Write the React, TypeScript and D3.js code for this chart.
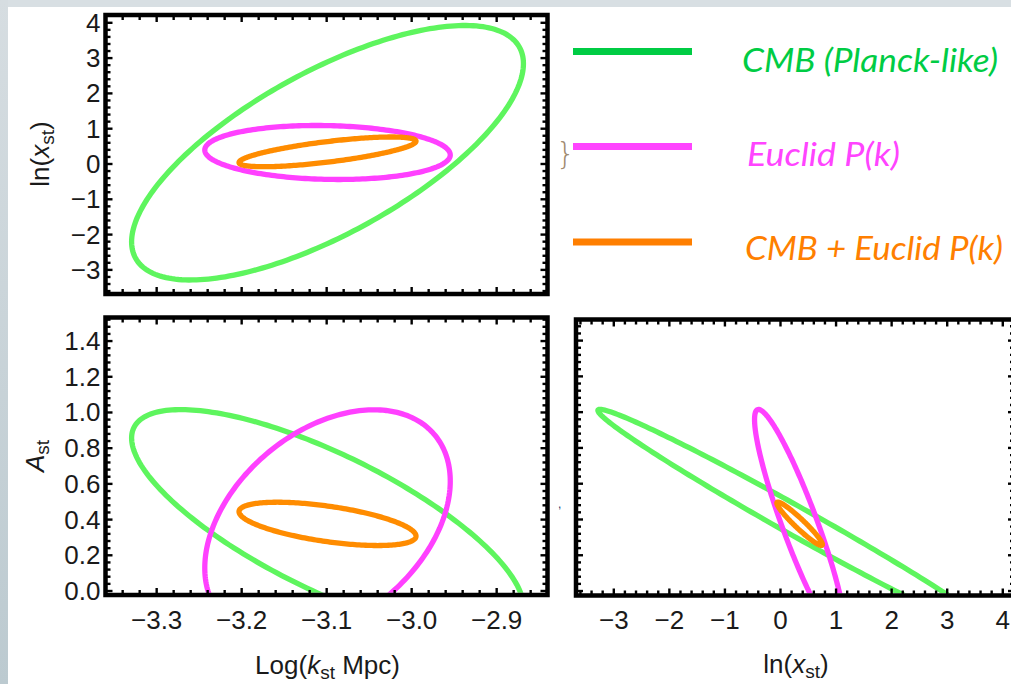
import React from "react";
import * as d3 from "d3";

const W = 1011;
const H = 684;

const seriesNames = ["CMB (Planck-like)", "Euclid P(k)", "CMB + Euclid P(k)"];

// ellipse parameters (centre, half-extent, correlation)
// top panel: Log(k_st Mpc) vs ln(x_st)
const topCx = [-3.099, -3.099, -3.099];
const topSx = [0.2305, 0.1444, 0.1041];
const topCy = [0.319, 0.326, 0.344];
const topSy = [3.605, 0.765, 0.421];
const topRho = [0.7, -0.09, 0.72];

// bottom-left: Log(k_st Mpc) vs A_st
const blCx = [-3.099, -3.099, -3.099];
const blSx = [0.2305, 0.1444, 0.1041];
const blCy = [0.384, 0.372, 0.376];
const blSy = [0.632, 0.643, 0.1213];
const blRho = [-0.748, 0.378, -0.565];

// bottom-right: ln(x_st) vs A_st
const brCx = [0.319, 0.35, 0.344];
const brSx = [3.605, 0.817, 0.41];
const brCy = [0.384, 0.372, 0.376];
const brSy = [0.632, 0.643, 0.1213];
const brRho = [-0.9895, -0.912, -0.955];

const logkTicks = [-3.3, -3.2, -3.1, -3.0, -2.9];
const lnxTicks = [-3, -2, -1, 0, 1, 2, 3, 4];
const ampTicks = [0, 0.2, 0.4, 0.6, 0.8, 1.0, 1.2, 1.4];

const curveColors = ["#5ef55e", "#ff40ff", "#ff8c00"];
const legendColors = ["#00cc44", "#ff44ff", "#ff7f00"];

const FONT = "'Liberation Sans', Arial, sans-serif";
const fmt1 = d3.format(".1f");
const fmt0 = d3.format("d");

function minorTicks(domain: number[], step: number) {
  const lo = Math.ceil(domain[0] / step - 1e-9);
  const hi = Math.floor(domain[1] / step + 1e-9);
  return d3.range(lo, hi + 1).map((i) => +(i * step).toFixed(6));
}

function ellipsePts(cx: number, sx: number, cy: number, sy: number, rho: number) {
  const s = Math.sqrt(1 - rho * rho);
  return d3.range(0, 360, 1.5).map((deg) => {
    const t = (deg * Math.PI) / 180;
    return [cx + sx * Math.cos(t), cy + sy * (rho * Math.cos(t) + s * Math.sin(t))];
  });
}

type PanelProps = {
  id: string;
  left: number;
  right: number;
  top: number;
  bottom: number;
  xDomain: number[];
  yDomain: number[];
  xMajor: number[];
  yMajor: number[];
  xMinor: number;
  yMinor: number;
  xFmt?: (v: number) => string;
  yFmt?: (v: number) => string;
  cx: number[];
  sx: number[];
  cy: number[];
  sy: number[];
  rho: number[];
};

function Panel(p: PanelProps) {
  const x = d3.scaleLinear().domain(p.xDomain).range([p.left, p.right]);
  const y = d3.scaleLinear().domain(p.yDomain).range([p.bottom, p.top]);
  const line = d3
    .line<number[]>()
    .x((d) => x(d[0]))
    .y((d) => y(d[1]))
    .curve(d3.curveLinearClosed);

  const xMin = minorTicks(p.xDomain, p.xMinor);
  const yMin = minorTicks(p.yDomain, p.yMinor);
  const isMajor = (arr: number[], v: number) => arr.some((m) => Math.abs(m - v) < 1e-6);
  const fw = 4.5;
  const inner = fw / 2;

  return (
    <g>
      <defs>
        <clipPath id={p.id}>
          <rect x={p.left + inner} y={p.top + inner} width={p.right - p.left - fw} height={p.bottom - p.top - fw} />
        </clipPath>
      </defs>
      <g clipPath={`url(#${p.id})`}>
        {p.cx.map((_, i) => (
          <path
            key={i}
            d={line(ellipsePts(p.cx[i], p.sx[i], p.cy[i], p.sy[i], p.rho[i])) || ""}
            fill="none"
            stroke={curveColors[i]}
            strokeWidth={5.3}
          />
        ))}
      </g>
      {/* ticks on all four sides, inward */}
      <g stroke="#000" strokeWidth={2.4}>
        {xMin.map((v) => {
          const len = isMajor(p.xMajor, v) ? 7 : 5;
          return (
            <g key={"x" + v}>
              <line x1={x(v)} x2={x(v)} y1={p.bottom} y2={p.bottom - len} />
              <line x1={x(v)} x2={x(v)} y1={p.top} y2={p.top + len} />
            </g>
          );
        })}
        {yMin.map((v) => {
          const len = isMajor(p.yMajor, v) ? 7 : 5;
          return (
            <g key={"y" + v}>
              <line x1={p.left} x2={p.left + len} y1={y(v)} y2={y(v)} />
              <line x1={p.right} x2={p.right - len} y1={y(v)} y2={y(v)} />
            </g>
          );
        })}
      </g>
      <rect x={p.left} y={p.top} width={p.right - p.left} height={p.bottom - p.top} fill="none" stroke="#000" strokeWidth={fw} />
      {p.xFmt &&
        p.xMajor.map((v) => (
          <text key={"xl" + v} x={x(v)} y={629} textAnchor="middle" fontSize={26} fontFamily={FONT} fill="#1a1a1a">
            {p.xFmt!(v)}
          </text>
        ))}
      {p.yFmt &&
        p.yMajor.map((v) => (
          <text key={"yl" + v} x={p.left - 5} y={y(v) + 9} textAnchor="end" fontSize={26} fontFamily={FONT} fill="#1a1a1a">
            {p.yFmt!(v)}
          </text>
        ))}
    </g>
  );
}

export default function App() {
  const legendY = [51.5, 146.5, 242];
  const legendTextX = [742, 747, 745];
  const legendTextY = [72, 166, 260];
  const legendTextW = [256, 153, 258];

  return (
    <svg width={W} height={H} style={{ position: "absolute", left: 0, top: 0, background: "#fff" }}>
      <defs>
        <linearGradient id="leftStrip" x1="0" y1="0" x2="0" y2="1">
          <stop offset="0" stopColor="#d6dde1" />
          <stop offset="1" stopColor="#bccad0" />
        </linearGradient>
      </defs>
      <rect x={0} y={0} width={W} height={H} fill="#fff" />
      <rect x={0} y={0} width={W} height={7} fill="#d8dfe3" />
      <rect x={0} y={0} width={8} height={H} fill="url(#leftStrip)" />

      <Panel
        id="clipTop"
        left={105.5}
        right={547.5}
        top={15}
        bottom={294}
        xDomain={[-3.3602, -2.8402]}
        yDomain={[-3.683, 4.221]}
        xMajor={logkTicks}
        yMajor={lnxTicks}
        xMinor={0.02}
        yMinor={0.2}
        yFmt={fmt0}
        cx={topCx}
        sx={topSx}
        cy={topCy}
        sy={topSy}
        rho={topRho}
      />
      <Panel
        id="clipBL"
        left={105.5}
        right={547.5}
        top={317.5}
        bottom={595}
        xDomain={[-3.3602, -2.8402]}
        yDomain={[-0.0224, 1.532]}
        xMajor={logkTicks}
        yMajor={ampTicks}
        xMinor={0.02}
        yMinor={0.04}
        xFmt={fmt1}
        yFmt={fmt1}
        cx={blCx}
        sx={blSx}
        cy={blCy}
        sy={blSy}
        rho={blRho}
      />
      <Panel
        id="clipBR"
        left={576}
        right={1015}
        top={319.5}
        bottom={595.5}
        xDomain={[-3.68, 4.22]}
        yDomain={[-0.025, 1.518]}
        xMajor={lnxTicks}
        yMajor={ampTicks}
        xMinor={0.2}
        yMinor={0.04}
        xFmt={fmt0}
        cx={brCx}
        sx={brSx}
        cy={brCy}
        sy={brSy}
        rho={brRho}
      />

      {/* axis titles */}
      <text transform="translate(49,154) rotate(-90)" textAnchor="middle" fontSize={26} fontFamily={FONT} fill="#1a1a1a">
        ln(<tspan fontStyle="italic">x</tspan>
        <tspan fontSize={19} dy={5}>st</tspan>
        <tspan dy={-5}>)</tspan>
      </text>
      <text transform="translate(44,456) rotate(-90)" textAnchor="middle" fontSize={26} fontFamily={FONT} fill="#1a1a1a">
        <tspan fontStyle="italic">A</tspan>
        <tspan fontSize={19} dy={5}>st</tspan>
      </text>
      <text x={327.5} y={674} textAnchor="middle" fontSize={26} fontFamily={FONT} fill="#1a1a1a">
        Log(<tspan fontStyle="italic">k</tspan>
        <tspan fontSize={19} dy={5}>st</tspan>
        <tspan dy={-5}> Mpc)</tspan>
      </text>
      <text x={796} y={673} textAnchor="middle" fontSize={26} fontFamily={FONT} fill="#1a1a1a">
        ln(<tspan fontStyle="italic">x</tspan>
        <tspan fontSize={19} dy={5}>st</tspan>
        <tspan dy={-5}>)</tspan>
      </text>

      {/* legend */}
      {seriesNames.map((name, i) => (
        <g key={name}>
          <line x1={573} x2={692} y1={legendY[i]} y2={legendY[i]} stroke={legendColors[i]} strokeWidth={7} />
          <text
            x={legendTextX[i]}
            y={legendTextY[i]}
            fontSize={32}
            fontStyle="italic"
            fontFamily="Lato, 'Open Sans', sans-serif"
            fill={legendColors[i]}
            textLength={legendTextW[i]}
            lengthAdjust="spacingAndGlyphs"
          >
            {name}
          </text>
        </g>
      ))}

      {/* stray marks from the slide */}
      <text x={556} y={164} fontSize={30} fontFamily="'DejaVu Sans', sans-serif" fontWeight={200} fill="#a08a70">
        {"}"}
      </text>
      <text x={558} y={508} fontSize={12} fontFamily={FONT} fill="#2a3a6a">
        ,
      </text>
    </svg>
  );
}
